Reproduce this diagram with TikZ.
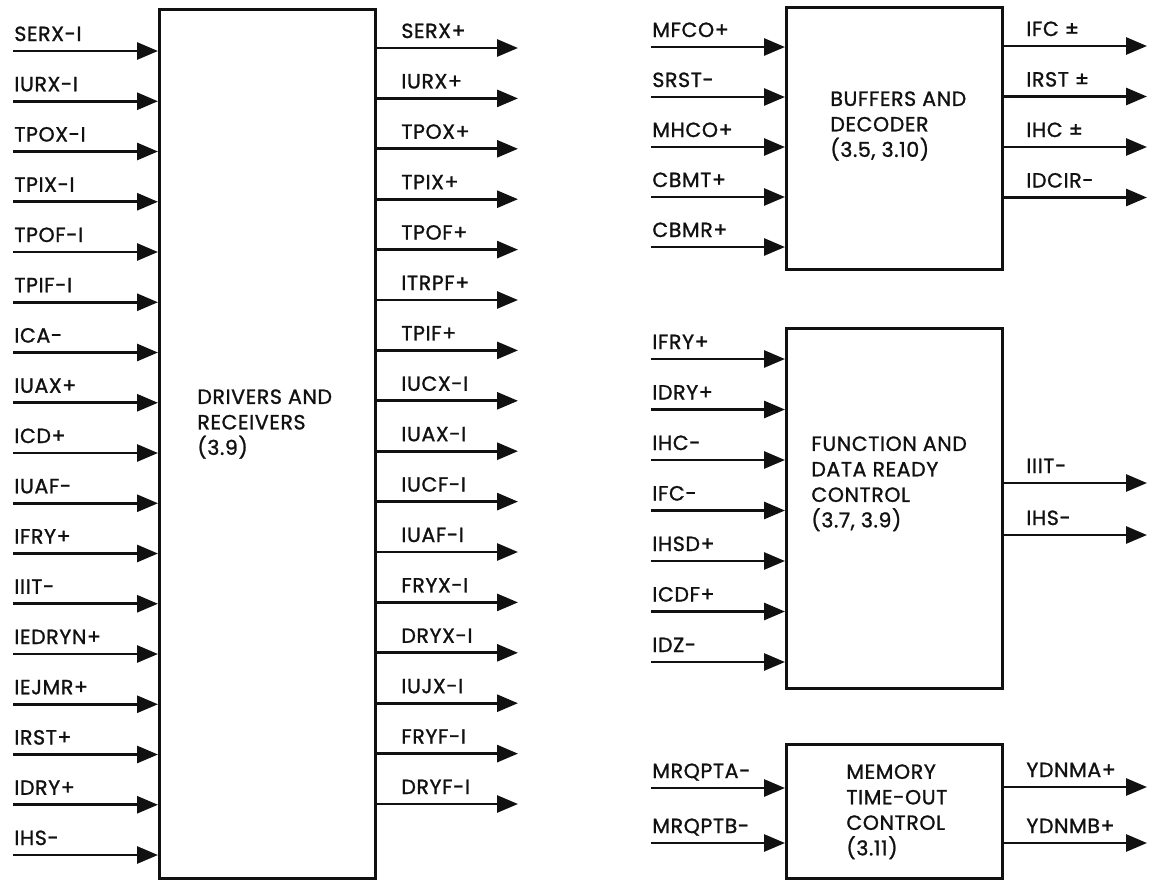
\documentclass[tikz,border=0pt]{standalone}
\usepackage{fontspec}
\setmainfont{Poppins}[UprightFeatures={FakeBold=1.2},LetterSpace=3]
\usetikzlibrary{arrows.meta,calc,positioning}
\definecolor{InkClr}{RGB}{17,17,17}

\begin{document}
\begin{tikzpicture}[x=1pt,y=-1pt,line width=2.8pt,color=InkClr,
  font=\fontsize{20.5}{25.5}\selectfont,
  blk/.style={draw=InkClr,line width=3.2pt,rectangle,inner sep=0pt,anchor=north west},
  sig/.style={-{Triangle[length=21pt,width=17pt]}},
  lbl/.style={anchor=base west,inner sep=0pt,text=InkClr},
  txt/.style={anchor=north west,inner sep=0pt,align=left,text=InkClr}]

\useasboundingbox (0,0) rectangle (1149,879);

% blocks
\node[blk,minimum width=216pt,minimum height=869pt] (drv) at (158,8) {};
\node[blk,minimum width=216pt,minimum height=262pt] (buf) at (785,6) {};
\node[blk,minimum width=216pt,minimum height=360pt] (fdr) at (785,327) {};
\node[blk,minimum width=216pt,minimum height=134pt] (mto) at (785,743) {};

\node[txt] (drvtxt) at (196,388) {DRIVERS AND\\RECEIVERS\\(3.9)};
\node[txt] (buftxt) at (829,90) {BUFFERS AND\\DECODER\\(3.5, 3.10)};
\node[txt] (fdrtxt) at (810,435) {FUNCTION AND\\DATA READY\\CONTROL\\(3.7, 3.9)};
\node[txt] (mtotxt) at (845,763) {MEMORY\\TIME-OUT\\CONTROL\\(3.11)};

% drivers and receivers
\foreach \lab [count=\i from 0] in {SERX-I,IURX-I,TPOX-I,TPIX-I,TPOF-I,TPIF-I,ICA-,IUAX+,ICD+,
    IUAF-,IFRY+,IIIT-,IEDRYN+,IEJMR+,IRST+,IDRY+,IHS-}{
  \coordinate (di\i) at (13,{51+50.25*\i});
  \draw[sig] (di\i) -- (di\i -| drv.west);
  \node[lbl] (dil\i) at ($(di\i)+(0,-10)$) {\lab};
}
\foreach \lab [count=\i from 0] in {SERX+,IURX+,TPOX+,TPIX+,TPOF+,ITRPF+,TPIF+,IUCX-I,IUAX-I,
    IUCF-I,IUAF-I,FRYX-I,DRYX-I,IUJX-I,FRYF-I,DRYF-I}{
  \coordinate (do\i) at (518,{48+50.4*\i});
  \draw[sig] (do\i -| drv.east) -- (do\i);
  \node[lbl] (dol\i) at ($(do\i)+(-118,-10)$) {\lab};
}

% buffers and decoder
\foreach \lab [count=\i from 0] in {MFCO+,SRST-,MHCO+,CBMT+,CBMR+}{
  \coordinate (bi\i) at (651,{47+50*\i});
  \draw[sig] (bi\i) -- (bi\i -| buf.west);
  \node[lbl] (bil\i) at ($(bi\i)+(0,-10)$) {\lab};
}
\foreach \lab [count=\i from 0] in {IFC ±,IRST ±,IHC ±,IDCIR-}{
  \coordinate (bo\i) at (1147,{46+50.5*\i});
  \draw[sig] (bo\i -| buf.east) -- (bo\i);
  \node[lbl] (bol\i) at ($(bo\i)+(-122,-10)$) {\lab};
}

% function and data ready control
\foreach \lab [count=\i from 0] in {IFRY+,IDRY+,IHC-,IFC-,IHSD+,ICDF+,IDZ-}{
  \coordinate (fi\i) at (651,{359+50.5*\i});
  \draw[sig] (fi\i) -- (fi\i -| fdr.west);
  \node[lbl] (fil\i) at ($(fi\i)+(0,-10)$) {\lab};
}
\foreach \lab [count=\i from 0] in {IIIT-,IHS-}{
  \coordinate (fo\i) at (1147,{483+52*\i});
  \draw[sig] (fo\i -| fdr.east) -- (fo\i);
  \node[lbl] (fol\i) at ($(fo\i)+(-122,-10)$) {\lab};
}

% memory time-out control
\foreach \lab [count=\i from 0] in {MRQPTA-,MRQPTB-}{
  \coordinate (mi\i) at (651,{788+55*\i});
  \draw[sig] (mi\i) -- (mi\i -| mto.west);
  \node[lbl] (mil\i) at ($(mi\i)+(0,-10)$) {\lab};
}
\foreach \lab [count=\i from 0] in {YDNMA+,YDNMB+}{
  \coordinate (mo\i) at (1147,{787+56*\i});
  \draw[sig] (mo\i -| mto.east) -- (mo\i);
  \node[lbl] (mol\i) at ($(mo\i)+(-122,-10)$) {\lab};
}

\end{tikzpicture}
\end{document}
